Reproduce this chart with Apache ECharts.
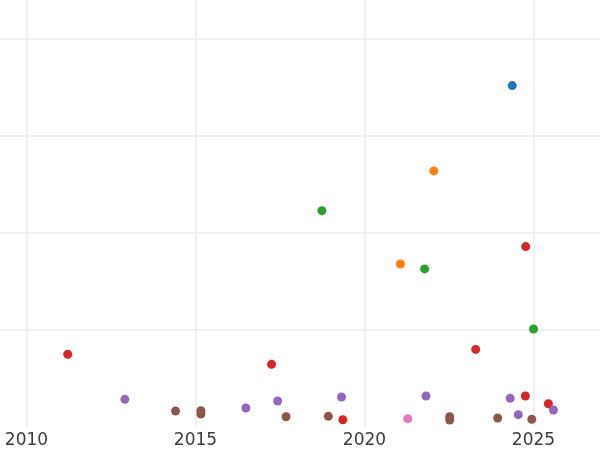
<!DOCTYPE html>
<html>
<head>
<meta charset="utf-8">
<script src="https://cdn.jsdelivr.net/npm/echarts@6/dist/echarts.min.js"></script>
<style>
  html, body { margin: 0; padding: 0; background: #fff; }
  #chart { width: 600px; height: 450px; }
</style>
</head>
<body>
<div id="chart"></div>
<script>
// points as [year, value], one list per colour group
const blueData = [[2024.37, 3.52]];
const orangeData = [[2022.05, 2.64], [2021.06, 1.68]];
const greenData = [[2018.74, 2.23], [2021.78, 1.63], [2025.0, 1.01]];
const redData = [
  [2011.22, 0.75], [2017.25, 0.646], [2024.77, 1.86], [2023.29, 0.80],
  [2024.76, 0.32], [2025.44, 0.24], [2019.36, 0.075],
];
const purpleData = [
  [2012.91, 0.285], [2016.49, 0.196], [2017.43, 0.268], [2019.32, 0.309],
  [2021.82, 0.32], [2024.31, 0.296], [2024.55, 0.127], [2025.59, 0.175],
];
const brownData = [
  [2014.41, 0.165], [2015.16, 0.167], [2015.16, 0.134], [2017.68, 0.106],
  [2018.93, 0.11], [2022.52, 0.106], [2022.52, 0.072], [2023.94, 0.093],
  [2024.95, 0.079],
];
const pinkData = [[2021.28, 0.086]];

const groups = [
  { name: "blue", color: "#1f77b4", data: blueData },
  { name: "orange", color: "#ff7f0e", data: orangeData },
  { name: "green", color: "#2ca02c", data: greenData },
  { name: "red", color: "#d62728", data: redData },
  { name: "purple", color: "#9467bd", data: purpleData },
  { name: "brown", color: "#8c564b", data: brownData },
  { name: "pink", color: "#e377c2", data: pinkData },
];

const chart = echarts.init(document.getElementById("chart"));

const gridLine = { show: true, lineStyle: { color: "#ebebeb", width: 1.5 } };

chart.setOption({
  animation: false,
  // grid runs past the canvas so that only 2010..2025 show
  grid: {
    left: -142.5, right: -102.5, top: -58, bottom: 23,
    outerBoundsMode: "none", containLabel: false,
  },
  xAxis: {
    type: "value",
    min: 2005,
    max: 2030,
    interval: 5,
    axisLine: { show: false },
    axisTick: { show: false },
    axisLabel: {
      color: "#3b3b3b",
      fontSize: 17,
      fontFamily: "DejaVu Sans",
      margin: 5,
      formatter: (v) => String(v),
    },
    splitLine: gridLine,
  },
  yAxis: {
    type: "value",
    min: 0,
    max: 5,
    interval: 1,
    axisLine: { show: false },
    axisTick: { show: false },
    axisLabel: { show: false },
    splitLine: Object.assign({ showMinLine: false }, gridLine),
  },
  series: groups.map((g) => ({
    name: g.name,
    type: "scatter",
    symbolSize: 9,
    itemStyle: { color: g.color, opacity: 1 },
    data: g.data,
  })),
});
</script>
</body>
</html>
